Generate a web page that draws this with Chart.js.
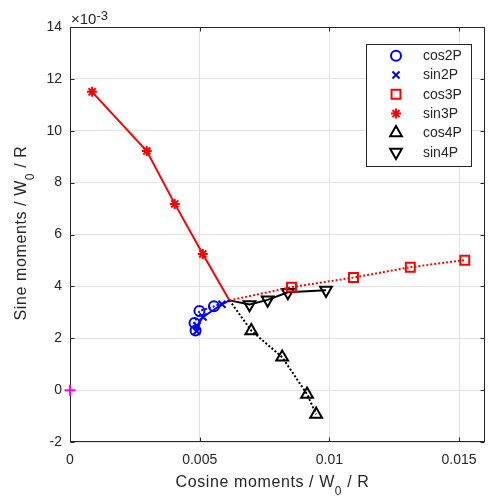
<!DOCTYPE html>
<html>
<head>
<meta charset="utf-8">
<script src="https://cdn.jsdelivr.net/npm/chart.js@4.4.1/dist/chart.umd.min.js"></script>
<style>
  html, body { margin: 0; padding: 0; background: #ffffff; }
  #wrap { width: 490px; height: 501px; }
</style>
</head>
<body>
<div id="wrap"><canvas id="c" width="490" height="501"></canvas></div>
<script>
// Harmonic moment trajectories: cosine component (x) vs sine component (y, in 1e-3 units).
// Every trajectory begins at the same starting point, drawn without a marker.
const startXY = [0.00615, 3.46];

const cos2PX = [0.00555, 0.00499, 0.00480, 0.00484];
const cos2PY = [3.23, 3.05, 2.59, 2.30];
const sin2PX = [0.00586, 0.00513, 0.00490, 0.00488];
const sin2PY = [3.31, 2.82, 2.48, 2.27];
const cos3PX = [0.00854, 0.01093, 0.01312, 0.01522];
const cos3PY = [3.97, 4.34, 4.74, 5.01];
const sin3PX = [0.00512, 0.00404, 0.00296, 0.00085];
const sin3PY = [5.25, 7.18, 9.22, 11.50];
const cos4PX = [0.00699, 0.00818, 0.00914, 0.00949];
const cos4PY = [2.29, 1.27, -0.16, -0.93];
const sin4PX = [0.00692, 0.00762, 0.00840, 0.00987];
const sin4PY = [3.30, 3.48, 3.77, 3.85];

// Reference point at the origin
const originX = [0];
const originY = [0];

const xTicks = [0, 0.005, 0.01, 0.015];
const xTickLabels = ['0', '0.005', '0.01', '0.015'];
const yTicks = [-2, 0, 2, 4, 6, 8, 10, 12, 14];
const yExponent = '-3';

const FONT = "'Liberation Sans', Arial, Helvetica, sans-serif";
const INK = '#262626';

function track(xs, ys) {
  const pts = [{ x: startXY[0], y: startXY[1] }];
  xs.forEach((x, i) => pts.push({ x: x, y: ys[i] }));
  return pts;
}

function series(label, xs, ys, color, style, radius, dashed, rotation) {
  return {
    label: label,
    data: track(xs, ys),
    showLine: true,
    borderColor: color,
    backgroundColor: 'rgba(0,0,0,0)',
    borderWidth: 2,
    borderDash: dashed ? [2, 2] : [],
    pointStyle: style,
    pointRotation: rotation || 0,
    markerSize: radius,
    pointRadius: ctx => (ctx.dataIndex === 0 ? 0 : radius),
    pointHoverRadius: ctx => (ctx.dataIndex === 0 ? 0 : radius),
    pointBorderColor: color,
    pointBackgroundColor: 'rgba(0,0,0,0)',
    pointBorderWidth: 2,
    clip: false
  };
}

const datasets = [
  series('cos2P', cos2PX, cos2PY, '#0000ff', 'circle', 5, true),
  series('sin2P', sin2PX, sin2PY, '#0000ff', 'crossRot', 5, false),
  series('cos3P', cos3PX, cos3PY, '#ff0000', 'rect', 6.3, true),
  series('sin3P', sin3PX, sin3PY, '#ff0000', 'star', 5, false),
  series('cos4P', cos4PX, cos4PY, '#000000', 'triangle', 6.8, true),
  series('sin4P', sin4PX, sin4PY, '#000000', 'triangle', 6.8, false, 180),
  {
    label: 'origin',
    data: originX.map((x, i) => ({ x: x, y: originY[i] })),
    showLine: false,
    pointStyle: 'cross',
    pointRadius: 5.5,
    pointBorderColor: '#ff00ff',
    pointBorderWidth: 2,
    clip: false
  }
];

// Text with an optional subscript piece, drawn centred at (cx, baseline)
function richText(ctx, parts, cx, baseline, spacing) {
  let total = 0;
  ctx.letterSpacing = spacing + 'px';
  parts.forEach(p => { ctx.font = p.size + 'px ' + FONT; p.w = ctx.measureText(p.t).width; total += p.w; });
  let x = cx - total / 2;
  ctx.textAlign = 'left';
  ctx.textBaseline = 'alphabetic';
  parts.forEach(p => {
    ctx.font = p.size + 'px ' + FONT;
    ctx.fillText(p.t, x, baseline + (p.dy || 0));
    x += p.w;
  });
  ctx.letterSpacing = '0px';
}

const framePlugin = {
  id: 'frame',
  beforeDatasetsDraw(chart) {
    const ctx = chart.ctx;
    const a = chart.chartArea;
    const xs = chart.scales.x, ys = chart.scales.y;
    ctx.save();
    ctx.strokeStyle = INK;
    ctx.lineWidth = 1;
    const L = Math.round(a.left) + 0.5, R = Math.round(a.right) - 0.5;
    const T = Math.round(a.top) + 0.5, B = Math.round(a.bottom) - 0.5;
    ctx.strokeRect(L, T, R - L, B - T);
    // inward tick marks on all four sides
    const tl = 4;
    ctx.beginPath();
    xTicks.forEach(v => {
      const px = Math.round(xs.getPixelForValue(v)) + 0.5;
      ctx.moveTo(px, B); ctx.lineTo(px, B - tl);
      ctx.moveTo(px, T); ctx.lineTo(px, T + tl);
    });
    yTicks.forEach(v => {
      const py = Math.round(ys.getPixelForValue(v)) + 0.5;
      ctx.moveTo(L, py); ctx.lineTo(L + tl, py);
      ctx.moveTo(R, py); ctx.lineTo(R - tl, py);
    });
    ctx.stroke();
    ctx.restore();
  },
  afterDraw(chart) {
    const ctx = chart.ctx;
    const a = chart.chartArea;
    ctx.save();
    ctx.fillStyle = INK;

    // axis titles
    richText(ctx, [
      { t: 'Cosine moments / W', size: 16 },
      { t: '0', size: 12, dy: 8 },
      { t: ' / R', size: 16 }
    ], 272.5, 487, 0.6);

    ctx.save();
    ctx.translate(25.5, 233);
    ctx.rotate(-Math.PI / 2);
    richText(ctx, [
      { t: 'Sine moments / W', size: 16 },
      { t: '0', size: 12, dy: 8 },
      { t: ' / R', size: 16 }
    ], 0, 0, 0.6);
    ctx.restore();

    // exponent label above the y axis
    ctx.textAlign = 'left';
    ctx.textBaseline = 'alphabetic';
    ctx.font = '15px ' + FONT;
    const base = '\u00d710';
    ctx.fillText(base, a.left + 1, 23.5);
    const bw = ctx.measureText(base).width;
    ctx.font = '13px ' + FONT;
    ctx.fillText(yExponent, a.left + 1 + bw, 19.5);

    // legend box
    const lx = 366, ly = 44, lw = 105, lh = 122;
    ctx.fillStyle = '#ffffff';
    ctx.fillRect(lx, ly, lw, lh);
    ctx.strokeStyle = INK;
    ctx.lineWidth = 1;
    ctx.strokeRect(lx + 0.5, ly + 0.5, lw, lh);
    const rowH = 19.3;
    chart.data.datasets.slice(0, 6).forEach((ds, i) => {
      const y = ly + 11.7 + i * rowH;
      ctx.strokeStyle = ds.pointBorderColor;
      ctx.fillStyle = 'rgba(0,0,0,0)';
      ctx.lineWidth = 2;
      ctx.setLineDash([]);
      Chart.helpers.drawPoint(ctx, {
        pointStyle: ds.pointStyle,
        rotation: ds.pointRotation || 0,
        radius: ds.markerSize,
        borderWidth: 2
      }, 396, y);
      ctx.fillStyle = INK;
      ctx.font = '14px ' + FONT;
      ctx.textAlign = 'left';
      ctx.textBaseline = 'middle';
      ctx.fillText(ds.label, 423, y + 0.5);
    });
    ctx.restore();
  }
};

function noPadding(s) {
  s.paddingLeft = 0; s.paddingRight = 0; s.paddingTop = 0; s.paddingBottom = 0;
}

new Chart(document.getElementById('c'), {
  type: 'scatter',
  data: { datasets: datasets },
  plugins: [framePlugin],
  options: {
    responsive: false,
    animation: false,
    devicePixelRatio: 1,
    layout: { autoPadding: false, padding: { left: 0, top: 27, right: 5, bottom: 0 } },
    plugins: {
      legend: { display: false },
      tooltip: { enabled: false }
    },
    scales: {
      x: {
        type: 'linear',
        min: 0,
        max: 0.016,
        afterFit: s => { s.height = 59; noPadding(s); },
        afterBuildTicks: s => { s.ticks = xTicks.map(v => ({ value: v })); },
        grid: { color: '#e3e3e3', drawTicks: false, lineWidth: 1 },
        border: { display: false },
        ticks: {
          padding: 10,
          color: INK,
          font: { family: FONT, size: 14 },
          maxRotation: 0,
          callback: (v) => { const i = xTicks.indexOf(v); return i >= 0 ? xTickLabels[i] : ''; }
        }
      },
      y: {
        type: 'linear',
        min: -2,
        max: 14,
        afterFit: s => { s.width = 70; noPadding(s); },
        afterBuildTicks: s => { s.ticks = yTicks.map(v => ({ value: v })); },
        grid: { color: '#e3e3e3', drawTicks: false, lineWidth: 1 },
        border: { display: false },
        ticks: {
          padding: 8,
          color: INK,
          font: { family: FONT, size: 14 },
          callback: (v) => String(v)
        }
      }
    }
  }
});
</script>
</body>
</html>
